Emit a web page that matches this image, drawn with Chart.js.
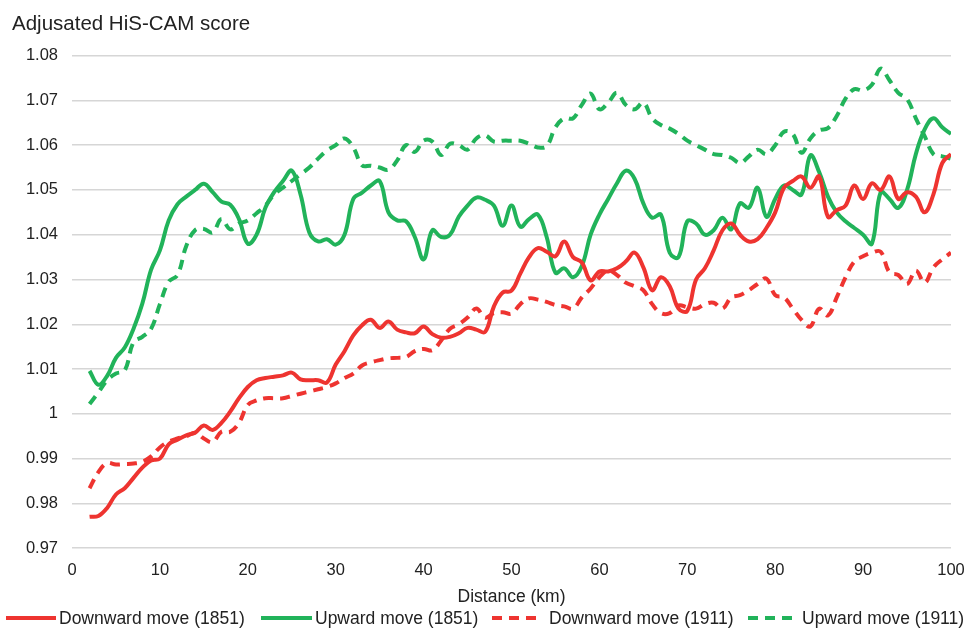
<!DOCTYPE html>
<html>
<head>
<meta charset="utf-8">
<script src="https://cdn.jsdelivr.net/npm/chart.js@4/dist/chart.umd.min.js"></script>
<style>
html,body{margin:0;padding:0;background:#fff;}
#wrap{width:968px;height:631px;position:relative;}
</style>
</head>
<body>
<div id="wrap"><canvas id="c" width="968" height="631"></canvas></div>
<script>
const distanceKm = [2,3,4,5,6,7,8,9,10,11,12,13,14,15,16,17,18,19,20,21,22,23,24,25,26,27,28,29,30,31,32,33,34,35,36,37,38,39,40,41,42,43,44,45,46,47,48,49,50,51,52,53,54,55,56,57,58,59,60,61,62,63,64,65,66,67,68,69,70,71,72,73,74,75,76,77,78,79,80,81,82,83,84,85,86,87,88,89,90,91,92,93,94,95,96,97,98,99,100];

const downward1851 = [0.977,0.9772,0.979,0.982,0.9834,0.9857,0.988,0.9896,0.990,0.9932,0.9942,0.9952,0.9958,0.9974,0.9964,0.998,1.0005,1.0035,1.006,1.0075,1.008,1.0083,1.0086,1.0092,1.0077,1.0075,1.0075,1.007,1.011,1.014,1.0175,1.0198,1.021,1.0192,1.0206,1.0188,1.0182,1.018,1.0195,1.0178,1.017,1.0172,1.018,1.0192,1.0188,1.0183,1.024,1.0271,1.0275,1.0313,1.035,1.037,1.0362,1.0352,1.0385,1.035,1.0338,1.0298,1.0318,1.0318,1.0325,1.034,1.036,1.0327,1.0276,1.0305,1.0285,1.0235,1.023,1.030,1.0325,1.0365,1.041,1.0425,1.040,1.0385,1.039,1.0415,1.045,1.0505,1.052,1.053,1.0505,1.053,1.044,1.0455,1.0465,1.051,1.048,1.0515,1.050,1.053,1.048,1.0495,1.0485,1.045,1.049,1.056,1.058];

const upward1851 = [1.0096,1.0065,1.0085,1.0125,1.0148,1.019,1.0246,1.0322,1.0365,1.0432,1.0468,1.0485,1.050,1.0514,1.0495,1.0474,1.0467,1.0435,1.038,1.040,1.046,1.0495,1.052,1.0543,1.049,1.0405,1.0385,1.039,1.0378,1.040,1.048,1.0494,1.051,1.052,1.045,1.0432,1.043,1.0395,1.0345,1.041,1.0395,1.040,1.044,1.0465,1.0483,1.0478,1.0465,1.042,1.0465,1.0418,1.0435,1.0445,1.0395,1.0315,1.0325,1.0305,1.033,1.040,1.0445,1.048,1.0515,1.0543,1.0525,1.047,1.0438,1.0445,1.036,1.035,1.043,1.0425,1.040,1.041,1.0438,1.0412,1.047,1.046,1.0505,1.044,1.048,1.051,1.050,1.049,1.0577,1.054,1.0485,1.045,1.043,1.0415,1.040,1.038,1.0495,1.048,1.046,1.050,1.058,1.0635,1.066,1.064,1.0625];

const downward1911 = [0.9834,0.987,0.989,0.9887,0.9888,0.9889,0.9893,0.9905,0.9925,0.9938,0.9945,0.995,0.9958,0.9945,0.9937,0.996,0.996,0.998,1.002,1.003,1.0035,1.0035,1.0035,1.004,1.0045,1.005,1.0055,1.006,1.0068,1.008,1.009,1.0108,1.0115,1.012,1.0124,1.0125,1.0127,1.014,1.0145,1.0142,1.0164,1.019,1.020,1.0215,1.0235,1.0215,1.0225,1.0227,1.0224,1.0245,1.0258,1.0255,1.025,1.0243,1.024,1.0235,1.026,1.028,1.0305,1.032,1.031,1.0293,1.0285,1.0276,1.0245,1.0225,1.0225,1.0242,1.0238,1.0235,1.0245,1.0248,1.0235,1.026,1.0265,1.0276,1.029,1.0302,1.0265,1.026,1.0235,1.021,1.0195,1.0235,1.022,1.026,1.0305,1.034,1.0352,1.036,1.0362,1.0316,1.031,1.029,1.032,1.0293,1.0327,1.0345,1.036];

const upward1911 = [1.0022,1.0048,1.0075,1.009,1.0097,1.016,1.0172,1.019,1.0245,1.0295,1.031,1.0375,1.041,1.0413,1.0405,1.0435,1.0412,1.0425,1.0432,1.0448,1.0465,1.049,1.0505,1.052,1.0535,1.055,1.057,1.0588,1.060,1.0615,1.0595,1.0555,1.0554,1.055,1.0545,1.0566,1.060,1.0585,1.061,1.0608,1.0578,1.0603,1.060,1.059,1.0615,1.0622,1.0608,1.061,1.061,1.061,1.0603,1.0595,1.0598,1.064,1.066,1.066,1.069,1.0715,1.068,1.0695,1.0717,1.069,1.068,1.0695,1.066,1.0645,1.0637,1.0625,1.061,1.060,1.059,1.058,1.0578,1.0572,1.056,1.0575,1.059,1.058,1.060,1.063,1.0625,1.0583,1.0615,1.0633,1.0638,1.0665,1.0704,1.0725,1.0722,1.0735,1.0771,1.0745,1.0717,1.0703,1.066,1.062,1.058,1.0575,1.057];

const seriesNames = ['Downward move (1851)','Upward move (1851)','Downward move (1911)','Upward move (1911)'];
const yTicks = [0.97,0.98,0.99,1.00,1.01,1.02,1.03,1.04,1.05,1.06,1.07,1.08];
const xTicks = [0,10,20,30,40,50,60,70,80,90,100];

const RED = '#ee3430';
const GREEN = '#21b35a';
const FONT = "'Liberation Sans', Arial, sans-serif";
const DASH = [10,7];

function pts(vals){ return distanceKm.map((x,i)=>({x:x,y:vals[i]})); }

function ds(label, vals, color, dashed){
  return {
    label: label,
    data: pts(vals),
    borderColor: color,
    backgroundColor: color,
    borderWidth: 4,
    borderDash: dashed ? DASH : [],
    pointRadius: 0,
    tension: 0.4,
    fill: false
  };
}

// Legend drawn in a plugin, reading labels/colours/dashes from the datasets
const legendLayout = [
  {lx: 6, lw: 50, tx: 59},
  {lx: 261, lw: 51, tx: 315},
  {lx: 492, lw: 50, tx: 549},
  {lx: 748, lw: 50, tx: 802}
];
const bottomLegend = {
  id: 'bottomLegend',
  afterDraw(chart){
    const ctx = chart.ctx;
    const y = 618;
    ctx.save();
    chart.data.datasets.forEach((d, i) => {
      const L = legendLayout[i];
      ctx.beginPath();
      ctx.setLineDash(d.borderDash || []);
      ctx.strokeStyle = d.borderColor;
      ctx.lineWidth = 4;
      ctx.lineCap = 'butt';
      ctx.moveTo(L.lx, y);
      ctx.lineTo(L.lx + L.lw, y);
      ctx.stroke();
      ctx.setLineDash([]);
      ctx.fillStyle = '#222';
      ctx.font = "17.5px " + FONT;
      ctx.textBaseline = 'middle';
      ctx.textAlign = 'left';
      ctx.fillText(d.label, L.tx, y + 1);
    });
    ctx.restore();
  }
};

new Chart(document.getElementById('c'), {
  type: 'line',
  data: {
    datasets: [
      ds(seriesNames[0], downward1851, RED, false),
      ds(seriesNames[1], upward1851, GREEN, false),
      ds(seriesNames[2], downward1911, RED, true),
      ds(seriesNames[3], upward1911, GREEN, true)
    ]
  },
  plugins: [bottomLegend],
  options: {
    responsive: false,
    animation: false,
    devicePixelRatio: 1,
    layout: { padding: { left: 12, right: 17, top: 6, bottom: 29 } },
    plugins: {
      title: {
        display: true,
        text: 'Adjusated HiS-CAM score',
        align: 'start',
        color: '#222',
        font: { family: FONT, size: 20.5, weight: 'normal' },
        padding: { top: 6, bottom: 19 }
      },
      legend: { display: false },
      tooltip: { enabled: false }
    },
    scales: {
      x: {
        type: 'linear',
        min: 0, max: 100,
        afterBuildTicks: s => { s.ticks = xTicks.map(v=>({value:v})); },
        afterFit: s => { s.paddingRight = 0; s.paddingLeft = 0; },
        grid: { display: false, drawTicks: false },
        border: { display: false },
        ticks: { color: '#222', padding: 12, maxRotation: 0, font: { family: FONT, size: 16.5 } },
        title: { display: true, text: 'Distance (km)', color: '#222', padding: {top: 0, bottom: 0}, font: { family: FONT, size: 17.5, lineHeight: '10px' } }
      },
      y: {
        type: 'linear',
        min: 0.97, max: 1.08,
        afterBuildTicks: s => { s.ticks = yTicks.map(v=>({value:v})); },
        afterFit: s => { s.width = 60; },
        grid: { color: '#d6d6d6', lineWidth: 1.5, drawTicks: false },
        border: { display: false },
        ticks: {
          color: '#222', padding: 14,
          font: { family: FONT, size: 16.5 },
          callback: v => String(parseFloat(Number(v).toFixed(2)))
        }
      }
    }
  }
});
</script>
</body>
</html>
